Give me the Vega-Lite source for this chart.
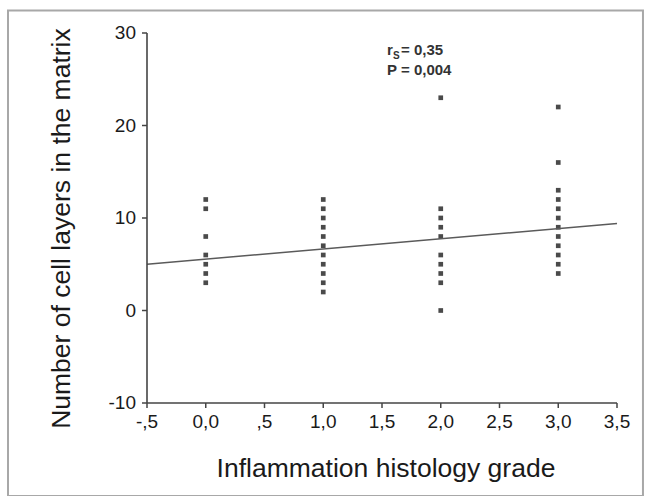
{
  "$schema": "https://vega.github.io/schema/vega-lite/v6.json",
  "autosize": "none",
  "width": 470,
  "height": 370,
  "padding": {"left": 147, "top": 33, "right": 35, "bottom": 93},
  "background": "white",
  "config": {
    "view": {"stroke": null},
    "axis": {"grid": false}
  },
  "datasets": {
    "xticks": [
      {"v": -0.5, "label": "-,5"}, {"v": 0, "label": "0,0"}, {"v": 0.5, "label": ",5"},
      {"v": 1, "label": "1,0"}, {"v": 1.5, "label": "1,5"}, {"v": 2, "label": "2,0"},
      {"v": 2.5, "label": "2,5"}, {"v": 3, "label": "3,0"}, {"v": 3.5, "label": "3,5"}
    ],
    "yticks": [
      {"v": -10, "label": "-10"}, {"v": 0, "label": "0"}, {"v": 10, "label": "10"},
      {"v": 20, "label": "20"}, {"v": 30, "label": "30"}
    ]
  },
  "layer": [
    {
      "data": {
        "values": [
          {"grade": 0, "layers": 12}, {"grade": 0, "layers": 11}, {"grade": 0, "layers": 8},
          {"grade": 0, "layers": 6}, {"grade": 0, "layers": 5}, {"grade": 0, "layers": 4},
          {"grade": 0, "layers": 3},
          {"grade": 1, "layers": 12}, {"grade": 1, "layers": 11}, {"grade": 1, "layers": 10},
          {"grade": 1, "layers": 9}, {"grade": 1, "layers": 8}, {"grade": 1, "layers": 7},
          {"grade": 1, "layers": 6}, {"grade": 1, "layers": 5}, {"grade": 1, "layers": 4},
          {"grade": 1, "layers": 3}, {"grade": 1, "layers": 2},
          {"grade": 2, "layers": 23}, {"grade": 2, "layers": 11}, {"grade": 2, "layers": 10},
          {"grade": 2, "layers": 9}, {"grade": 2, "layers": 8}, {"grade": 2, "layers": 6},
          {"grade": 2, "layers": 5}, {"grade": 2, "layers": 4}, {"grade": 2, "layers": 3},
          {"grade": 2, "layers": 0},
          {"grade": 3, "layers": 22}, {"grade": 3, "layers": 16}, {"grade": 3, "layers": 13},
          {"grade": 3, "layers": 12}, {"grade": 3, "layers": 11}, {"grade": 3, "layers": 10},
          {"grade": 3, "layers": 9}, {"grade": 3, "layers": 8}, {"grade": 3, "layers": 7},
          {"grade": 3, "layers": 6}, {"grade": 3, "layers": 5}, {"grade": 3, "layers": 4}
        ]
      },
      "mark": {"type": "point", "shape": "square", "filled": true, "size": 22, "color": "#4a4a4a", "opacity": 1},
      "encoding": {
        "x": {"field": "grade", "type": "quantitative", "scale": {"domain": [-0.5, 3.5], "nice": false, "zero": false}, "axis": null},
        "y": {"field": "layers", "type": "quantitative", "scale": {"domain": [-10, 30], "nice": false, "zero": false}, "axis": null}
      }
    },
    {
      "data": {"values": [{"grade": -0.5, "fit": 5.0}, {"grade": 3.5, "fit": 9.4}]},
      "mark": {"type": "line", "color": "#5a5a5a", "strokeWidth": 1.6},
      "encoding": {
        "x": {"field": "grade", "type": "quantitative", "axis": null},
        "y": {"field": "fit", "type": "quantitative", "axis": null}
      }
    },
    {
      "data": {"values": [{}]},
      "mark": {"type": "rect", "fill": null, "fillOpacity": 0, "stroke": "#a8a8a8", "strokeWidth": 2, "clip": false},
      "encoding": {
        "x": {"datum": -1.683, "type": "quantitative", "axis": null},
        "x2": {"datum": 3.721},
        "y": {"datum": 32.44, "type": "quantitative", "axis": null},
        "y2": {"datum": -20.05}
      }
    },
    {
      "data": {"values": [{}]},
      "mark": {"type": "rule", "color": "#444444", "strokeWidth": 1.6},
      "encoding": {
        "x": {"datum": -0.5, "type": "quantitative", "axis": null},
        "x2": {"datum": 3.5},
        "y": {"datum": -10, "type": "quantitative", "axis": null}
      }
    },
    {
      "data": {"values": [{}]},
      "mark": {"type": "rule", "color": "#444444", "strokeWidth": 1.6},
      "encoding": {
        "x": {"datum": -0.5, "type": "quantitative", "axis": null},
        "y": {"datum": -10, "type": "quantitative", "axis": null},
        "y2": {"datum": 30}
      }
    },
    {
      "data": {"name": "xticks"},
      "mark": {"type": "rule", "color": "#444444", "strokeWidth": 1.5},
      "encoding": {
        "x": {"field": "v", "type": "quantitative", "axis": null},
        "y": {"datum": -10, "type": "quantitative", "axis": null},
        "y2": {"datum": -10.55}
      }
    },
    {
      "data": {"name": "xticks"},
      "mark": {"type": "text", "align": "center", "baseline": "top", "dy": 10, "font": "Liberation Sans", "fontSize": 19, "color": "#1a1a1a"},
      "encoding": {
        "x": {"field": "v", "type": "quantitative", "axis": null},
        "y": {"datum": -10, "type": "quantitative", "axis": null},
        "text": {"field": "label"}
      }
    },
    {
      "data": {"name": "yticks"},
      "mark": {"type": "rule", "color": "#444444", "strokeWidth": 1.5},
      "encoding": {
        "x": {"datum": -0.5, "type": "quantitative", "axis": null},
        "x2": {"datum": -0.5426},
        "y": {"field": "v", "type": "quantitative", "axis": null}
      }
    },
    {
      "data": {"name": "yticks"},
      "mark": {"type": "text", "align": "right", "baseline": "middle", "dx": -11, "font": "Liberation Sans", "fontSize": 19, "color": "#1a1a1a"},
      "encoding": {
        "x": {"datum": -0.5, "type": "quantitative", "axis": null},
        "y": {"field": "v", "type": "quantitative", "axis": null},
        "text": {"field": "label"}
      }
    },
    {
      "data": {"values": [{}]},
      "mark": {"type": "text", "text": "Inflammation histology grade", "align": "center", "baseline": "alphabetic", "font": "Liberation Sans", "fontSize": 26.5, "color": "#1a1a1a"},
      "encoding": {
        "x": {"datum": 1.534, "type": "quantitative", "axis": null},
        "y": {"datum": -17.97, "type": "quantitative", "axis": null}
      }
    },
    {
      "data": {"values": [{}]},
      "mark": {"type": "text", "text": "Number of cell layers in the matrix", "align": "center", "baseline": "alphabetic", "angle": -90, "font": "Liberation Sans", "fontSize": 26.5, "color": "#1a1a1a"},
      "encoding": {
        "x": {"datum": -1.155, "type": "quantitative", "axis": null},
        "y": {"datum": 8.86, "type": "quantitative", "axis": null}
      }
    },
    {
      "data": {"values": [{}]},
      "mark": {"type": "text", "text": "r", "align": "left", "baseline": "alphabetic", "font": "Liberation Sans", "fontWeight": "bold", "fontSize": 15, "color": "#333333"},
      "encoding": {
        "x": {"datum": 1.543, "type": "quantitative", "axis": null},
        "y": {"datum": 27.67, "type": "quantitative", "axis": null}
      }
    },
    {
      "data": {"values": [{}]},
      "mark": {"type": "text", "text": "S", "align": "left", "baseline": "alphabetic", "dx": 6, "dy": 4, "font": "Liberation Sans", "fontWeight": "bold", "fontSize": 10, "color": "#333333"},
      "encoding": {
        "x": {"datum": 1.543, "type": "quantitative", "axis": null},
        "y": {"datum": 27.67, "type": "quantitative", "axis": null}
      }
    },
    {
      "data": {"values": [{}]},
      "mark": {"type": "text", "text": "= 0,35", "align": "left", "baseline": "alphabetic", "dx": 14, "font": "Liberation Sans", "fontWeight": "bold", "fontSize": 15, "color": "#333333"},
      "encoding": {
        "x": {"datum": 1.543, "type": "quantitative", "axis": null},
        "y": {"datum": 27.67, "type": "quantitative", "axis": null}
      }
    },
    {
      "data": {"values": [{}]},
      "mark": {"type": "text", "text": "P = 0,004", "align": "left", "baseline": "alphabetic", "font": "Liberation Sans", "fontWeight": "bold", "fontSize": 15, "color": "#333333"},
      "encoding": {
        "x": {"datum": 1.543, "type": "quantitative", "axis": null},
        "y": {"datum": 25.5, "type": "quantitative", "axis": null}
      }
    }
  ]
}
